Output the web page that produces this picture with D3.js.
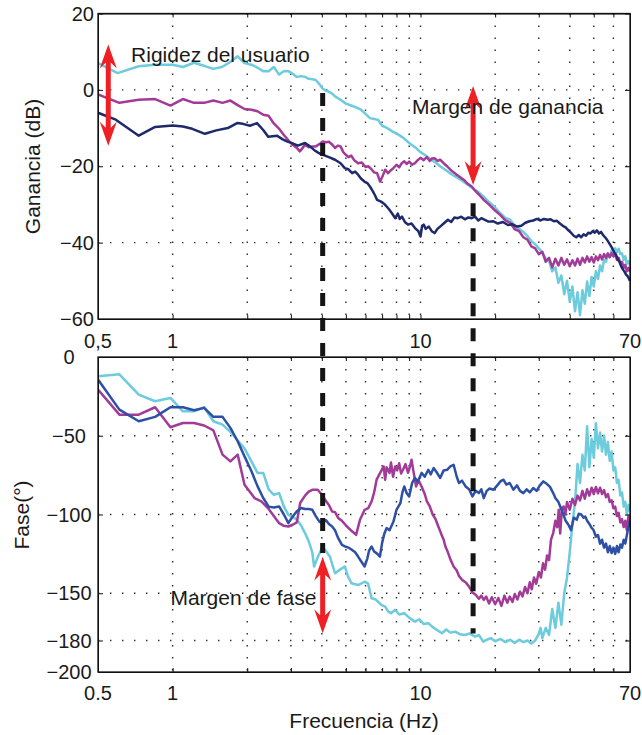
<!DOCTYPE html>
<html><head><meta charset="utf-8">
<script src="https://cdn.jsdelivr.net/npm/d3@7"></script>
<style>
body{margin:0;background:#fff;}
svg text{font-family:"Liberation Sans",Arial,Helvetica,sans-serif;fill:#1a1a1a;}
</style></head><body>
<svg id="c" width="642" height="735"></svg>
<script>
// ---------- data ----------
const gainTicks=[20,0,-20,-40,-60];
const phaseTicks=[0,-50,-100,-150,-180,-200];
const freqTicks=[0.5,1,10,70];
const freqLabelsTop=["0,5","1","10","70"];
const freqLabelsBottom=["0.5","1","10","70"];
const gridFreqs=[1,2,3,4,5,6,7,8,9,10,20,30,40,50,60];

const gainCyan=[[0.5,7.0],[0.6,4.4],[0.73,6.2],[0.85,6.6],[1.0,6.6],[1.1,6.0],[1.22,7.1],[1.34,6.3],[1.46,5.5],[1.58,6.0],[1.71,7.3],[1.83,8.8],[1.95,7.0],[2.08,6.6],[2.2,5.8],[2.32,4.9],[2.44,4.9],[2.56,6.0],[2.69,4.0],[2.81,4.9],[2.93,4.9],[3.05,4.2],[3.17,3.4],[3.3,3.6],[3.42,3.4],[3.54,2.9],[3.66,2.8],[3.78,2.6],[3.91,1.5],[4.03,0.3],[4.15,-0.2],[4.27,-0.5],[4.4,-1.0],[4.52,-1.7],[4.76,-2.6],[5.0,-3.6],[5.25,-4.1],[5.5,-4.6],[5.75,-5.2],[6.0,-6.3],[6.25,-7.4],[6.5,-7.6],[6.75,-7.9],[7.0,-9.4],[7.25,-9.8],[7.5,-10.4],[7.75,-11.0],[8.0,-11.4],[8.5,-12.5],[9.0,-13.9],[9.5,-15.0],[10,-16.3],[10.5,-17.2],[11,-18.2],[11.5,-19.0],[12,-20.0],[12.5,-20.8],[13,-21.6],[13.5,-22.3],[14,-22.9],[14.5,-23.5],[15,-24.2],[15.5,-24.8],[16,-25.5],[17,-26.6],[18,-28.0],[19,-29.5],[20,-30.8],[21,-32.3],[22,-33.5],[23,-34.0],[24,-35.6],[25,-36.4],[26,-37.2],[27,-38.3],[28,-39.6],[29,-40.4],[30,-41.5],[31,-42.6],[32,-44.2],[33,-44.8],[34,-47.5],[35,-46.5],[36,-50.5],[37,-48.6],[38,-53.5],[39,-50.0],[40,-55.5],[41,-51.5],[42,-58.0],[43,-53.0],[44,-59.0],[45,-52.5],[46,-56.0],[47,-50.2],[48,-54.0],[49,-49.0],[50,-51.5],[51,-47.5],[52,-49.5],[53,-46.0],[54,-47.5],[55,-44.5],[56,-45.0],[57,-43.2],[58,-43.8],[59,-42.0],[60,-42.8],[61,-41.5],[62,-42.5],[63,-41.6],[64,-43.0],[65,-42.8],[66,-44.5],[67,-43.6],[68,-45.5],[69,-44.8],[70,-46.0]];

const gainMagenta=[[0.5,-1.2],[0.61,-3.4],[0.73,-2.6],[0.85,-2.4],[0.98,-4.1],[1.1,-2.4],[1.22,-3.4],[1.34,-3.4],[1.46,-2.8],[1.59,-3.4],[1.71,-2.8],[1.83,-4.0],[1.95,-5.0],[2.08,-5.2],[2.2,-5.6],[2.32,-6.5],[2.44,-6.8],[2.56,-8.8],[2.69,-10.2],[2.81,-11.8],[2.93,-13.2],[3.05,-14.4],[3.17,-15.2],[3.26,-16.1],[3.42,-14.4],[3.54,-15.0],[3.66,-14.8],[3.78,-14.8],[3.91,-14.2],[4.03,-13.5],[4.15,-13.7],[4.27,-13.6],[4.4,-14.3],[4.52,-15.2],[4.64,-14.6],[4.76,-14.8],[4.88,-16.3],[5.0,-17.0],[5.12,-17.6],[5.25,-17.2],[5.4,-18.4],[5.6,-19.2],[5.8,-19.0],[6.0,-20.2],[6.15,-20.0],[6.3,-20.6],[6.5,-21.6],[6.68,-21.8],[6.87,-24.0],[7.05,-22.4],[7.2,-20.9],[7.4,-21.8],[7.55,-21.2],[7.75,-20.6],[8.0,-19.6],[8.2,-20.3],[8.4,-19.2],[8.6,-18.7],[8.8,-19.4],[9.0,-18.8],[9.25,-19.6],[9.5,-19.2],[9.75,-18.4],[10.0,-17.8],[10.3,-18.4],[10.6,-17.6],[10.9,-18.6],[11.1,-18.0],[11.4,-17.9],[11.7,-18.6],[12.0,-18.3],[12.4,-19.2],[12.8,-20.0],[13.2,-20.9],[13.6,-21.6],[14.0,-22.2],[14.6,-23.1],[15.0,-23.6],[15.5,-24.6],[16.1,-25.3],[16.6,-26.4],[17.2,-27.4],[18.0,-28.8],[19.0,-30.2],[20,-31.6],[21,-32.8],[22,-34.2],[23,-34.8],[24,-36.5],[25,-37.0],[26,-38.6],[27,-39.2],[28,-41.0],[29,-41.5],[30,-43.0],[31,-42.4],[32,-45.0],[33,-44.0],[34,-46.5],[35,-44.2],[36,-46.0],[37,-44.0],[38,-45.8],[39,-44.4],[40,-46.2],[41,-44.6],[42,-46.0],[43,-44.2],[44,-45.8],[45,-44.0],[46,-45.2],[47,-43.6],[48,-45.0],[49,-43.8],[50,-45.2],[51,-43.6],[52,-44.6],[53,-43.2],[54,-44.4],[55,-43.0],[56,-44.0],[57,-42.8],[58,-43.8],[59,-42.8],[60,-43.6],[61,-43.0],[62,-44.5],[63,-44.0],[64,-45.5],[65,-45.0],[66,-46.6],[67,-45.8],[68,-47.5],[69,-46.6],[70,-47.6]];

const gainNavy=[[0.5,-6.0],[0.59,-7.8],[0.73,-12.0],[0.85,-9.7],[1.0,-9.3],[1.1,-9.6],[1.2,-10.2],[1.35,-11.5],[1.5,-10.6],[1.67,-10.0],[1.82,-8.7],[1.92,-8.9],[2.05,-9.4],[2.19,-8.7],[2.32,-10.5],[2.43,-12.3],[2.64,-12.0],[2.77,-12.9],[2.89,-13.5],[3.05,-14.0],[3.2,-14.6],[3.42,-13.9],[3.58,-14.8],[3.75,-15.9],[3.9,-16.6],[4.04,-17.0],[4.27,-17.6],[4.52,-18.3],[4.76,-19.2],[4.95,-20.5],[5.12,-20.8],[5.3,-21.8],[5.45,-21.4],[5.6,-22.2],[5.75,-23.2],[5.94,-24.0],[6.1,-24.4],[6.25,-25.3],[6.4,-26.4],[6.55,-27.6],[6.68,-28.8],[6.9,-29.2],[7.05,-29.6],[7.2,-30.1],[7.45,-31.2],[7.67,-32.3],[7.9,-33.6],[8.1,-32.4],[8.25,-33.8],[8.42,-33.2],[8.65,-34.6],[8.9,-35.3],[9.2,-35.0],[9.5,-36.2],[9.8,-37.0],[10.0,-38.4],[10.15,-35.6],[10.3,-35.3],[10.5,-36.4],[10.8,-35.8],[11.1,-37.0],[11.4,-37.5],[11.7,-36.4],[12.0,-35.8],[12.4,-35.0],[12.9,-34.0],[13.3,-34.6],[13.7,-33.4],[14.15,-33.6],[14.6,-33.2],[15.1,-33.9],[15.6,-33.4],[16.1,-33.6],[16.6,-33.2],[17.1,-34.2],[17.6,-33.6],[18.1,-34.0],[18.8,-34.5],[19.6,-34.4],[20.5,-35.0],[21.5,-34.6],[22.5,-35.4],[23.5,-35.2],[24.5,-35.8],[25.5,-35.6],[26.5,-34.8],[27.5,-34.4],[28.5,-34.2],[29.5,-33.8],[30.5,-34.2],[31.5,-33.8],[32.5,-34.0],[33.5,-33.9],[34.5,-34.4],[35.5,-34.3],[36.5,-35.0],[37.5,-35.6],[38.5,-36.0],[39.5,-36.8],[40.5,-37.4],[41.5,-38.2],[42.5,-38.6],[43.5,-38.0],[44.5,-38.6],[45.5,-37.8],[46.5,-38.2],[47.5,-37.4],[48.5,-37.6],[49.5,-37.0],[50.5,-37.4],[51.5,-36.8],[52.5,-37.6],[53.5,-37.2],[54.5,-38.0],[55.5,-38.6],[56.5,-39.2],[57.5,-40.0],[58.5,-40.8],[59.5,-41.6],[60.5,-42.6],[61.5,-43.2],[62.5,-44.4],[63.5,-45.0],[64.5,-46.2],[65.5,-47.0],[66.5,-47.6],[67.5,-48.4],[68.5,-48.8],[69.5,-49.6],[70,-50.0]];

const phaseCyan=[[0.5,-12.2],[0.61,-11.0],[0.73,-23.9],[0.85,-28.1],[0.98,-26.0],[1.1,-34.5],[1.22,-34.5],[1.34,-31.9],[1.46,-40.8],[1.59,-42.9],[1.71,-47.5],[1.83,-53.0],[1.95,-58.0],[2.08,-66.3],[2.2,-73.6],[2.32,-73.6],[2.44,-84.0],[2.56,-87.5],[2.69,-86.4],[2.81,-94.9],[2.93,-100.2],[3.05,-101.5],[3.17,-103.3],[3.3,-107.0],[3.42,-111.8],[3.54,-117.0],[3.66,-124.0],[3.72,-133.0],[3.85,-127.0],[4.03,-120.4],[4.12,-122.4],[4.31,-126.8],[4.52,-137.3],[4.73,-135.0],[4.95,-133.0],[5.1,-139.5],[5.27,-143.7],[5.6,-144.8],[5.95,-142.7],[6.14,-143.7],[6.35,-153.2],[6.6,-154.0],[6.95,-157.4],[7.2,-158.5],[7.4,-161.5],[7.6,-162.7],[7.9,-160.5],[8.2,-163.5],[8.6,-162.7],[9.0,-165.5],[9.5,-168.0],[9.9,-166.5],[10.3,-169.5],[10.75,-169.0],[11.2,-171.5],[11.7,-173.5],[12.2,-175.4],[12.7,-173.0],[13.2,-175.0],[13.8,-174.4],[14.4,-176.0],[15.1,-176.5],[15.8,-175.5],[16.6,-177.6],[17.2,-176.5],[17.9,-180.7],[18.4,-179.7],[19.2,-178.5],[20.0,-180.5],[21,-179.0],[22,-181.0],[23,-179.5],[24,-181.5],[25,-179.5],[26,-181.0],[27,-180.0],[28,-182.0],[29,-180.0],[30,-176.0],[30.5,-172.0],[31,-178.5],[32,-172.0],[33,-176.5],[34,-160.0],[35,-172.0],[36,-156.0],[37,-170.0],[38,-150.0],[39,-140.0],[40,-124.0],[41,-106.0],[42,-92.0],[43,-68.0],[44,-80.0],[45,-62.0],[46,-72.0],[47,-44.0],[48,-70.0],[49,-52.0],[50,-64.0],[51,-42.0],[52,-58.0],[53,-48.0],[54,-60.0],[55,-50.0],[56,-62.0],[57,-54.0],[58,-66.0],[59,-60.0],[60,-72.0],[61,-70.0],[62,-80.0],[63,-78.0],[64,-88.0],[65,-86.0],[66,-95.0],[67,-92.0],[68,-100.0],[69,-94.0],[70,-98.0]];

const phaseMagenta=[[0.5,-20.7],[0.61,-36.6],[0.73,-36.6],[0.85,-31.9],[0.98,-44.6],[1.1,-41.9],[1.22,-41.9],[1.34,-43.5],[1.46,-46.6],[1.59,-62.0],[1.71,-66.3],[1.83,-62.0],[1.95,-81.1],[2.02,-84.3],[2.14,-89.6],[2.28,-91.7],[2.44,-96.5],[2.56,-101.0],[2.69,-105.5],[2.81,-107.2],[2.93,-107.6],[3.05,-106.5],[3.17,-105.0],[3.27,-92.7],[3.42,-88.0],[3.54,-85.5],[3.66,-84.3],[3.85,-84.3],[4.0,-87.5],[4.12,-90.6],[4.27,-94.0],[4.4,-98.1],[4.52,-98.5],[4.66,-102.3],[4.82,-104.0],[5.05,-107.6],[5.28,-110.5],[5.5,-112.9],[5.6,-108.0],[5.7,-103.3],[5.95,-97.0],[6.15,-96.0],[6.35,-91.7],[6.5,-86.0],[6.65,-77.9],[6.85,-74.0],[7.1,-69.5],[7.2,-78.0],[7.3,-70.0],[7.5,-73.6],[7.6,-67.0],[7.75,-76.0],[7.9,-69.5],[8.05,-72.0],[8.2,-67.5],[8.35,-74.0],[8.5,-71.6],[8.7,-68.0],[8.9,-73.5],[9.05,-70.0],[9.2,-65.2],[9.35,-72.0],[9.6,-82.2],[9.8,-78.0],[10.1,-82.2],[10.4,-87.0],[10.6,-91.5],[10.9,-94.9],[11.2,-100.0],[11.5,-103.0],[11.8,-107.6],[12.1,-112.0],[12.4,-116.0],[12.6,-120.3],[12.9,-124.0],[13.2,-128.5],[13.6,-133.0],[14.0,-135.5],[14.3,-139.0],[14.7,-141.5],[15.2,-143.0],[15.7,-145.8],[16.2,-149.5],[16.7,-151.0],[17.2,-153.5],[17.6,-151.5],[18.0,-154.2],[18.4,-152.1],[18.9,-156.5],[19.4,-152.5],[20.0,-157.0],[20.6,-153.0],[21.2,-158.0],[21.8,-151.5],[22.4,-156.0],[22.9,-152.1],[23.5,-155.5],[24.0,-150.5],[24.6,-154.0],[25.2,-149.0],[25.8,-152.0],[26.4,-146.0],[27.0,-150.0],[27.6,-143.0],[28.1,-147.5],[28.7,-140.0],[29.3,-144.0],[30.0,-136.5],[30.6,-140.0],[31.2,-131.0],[31.8,-135.0],[32.4,-126.0],[33.0,-129.0],[33.6,-116.0],[34.3,-111.8],[35.0,-104.0],[35.6,-108.0],[36.1,-97.0],[36.6,-112.0],[37.2,-96.0],[37.8,-94.9],[38.4,-100.0],[39.0,-92.0],[40.0,-97.0],[41.0,-90.0],[42.0,-94.0],[43.0,-88.0],[44.0,-91.0],[45.0,-85.0],[46.0,-90.0],[47.0,-84.0],[48.0,-88.0],[49.0,-83.0],[50.0,-87.0],[51.0,-82.5],[52.0,-86.5],[53.0,-83.0],[54.0,-87.0],[55.0,-84.5],[56.0,-89.0],[57.0,-87.0],[58.0,-92.0],[59.0,-91.0],[60.0,-96.0],[61.0,-95.0],[62.0,-101.0],[63.0,-99.0],[64.0,-105.0],[65.0,-103.0],[66.0,-108.0],[67.0,-104.0],[68.0,-110.0],[69.0,-101.0],[70.0,-106.0]];

const phaseBlue=[[0.5,-14.3],[0.61,-33.4],[0.73,-40.8],[0.85,-38.0],[0.98,-31.9],[1.1,-31.9],[1.22,-33.8],[1.34,-32.3],[1.46,-38.0],[1.59,-38.0],[1.71,-45.0],[1.83,-53.5],[1.95,-63.1],[2.08,-72.5],[2.2,-82.0],[2.32,-89.5],[2.44,-95.0],[2.56,-95.5],[2.69,-94.9],[2.81,-100.0],[2.93,-105.5],[3.05,-101.3],[3.17,-98.0],[3.3,-95.9],[3.42,-96.5],[3.54,-96.5],[3.66,-97.0],[3.78,-101.0],[3.91,-104.5],[4.03,-105.5],[4.15,-103.5],[4.27,-106.0],[4.4,-107.6],[4.52,-110.0],[4.64,-114.5],[4.82,-119.3],[5.0,-120.5],[5.12,-121.0],[5.28,-122.4],[5.45,-124.0],[5.6,-126.7],[5.75,-129.5],[5.95,-133.0],[6.1,-128.0],[6.2,-123.0],[6.35,-120.3],[6.5,-123.5],[6.7,-125.0],[6.86,-126.7],[7.0,-118.0],[7.15,-112.0],[7.3,-108.6],[7.5,-110.0],[7.78,-104.4],[8.0,-97.0],[8.3,-92.7],[8.45,-86.0],[8.6,-82.2],[8.8,-86.5],[9.0,-88.5],[9.25,-80.0],[9.5,-76.8],[9.75,-79.0],[10.1,-73.6],[10.4,-76.0],[10.75,-71.6],[11.0,-74.5],[11.3,-70.5],[11.6,-73.0],[12.0,-76.8],[12.4,-72.0],[12.8,-71.6],[13.2,-69.5],[13.6,-68.4],[14.0,-76.0],[14.3,-80.0],[14.7,-78.5],[15.2,-82.2],[15.7,-84.0],[16.2,-88.5],[16.7,-85.0],[17.2,-86.4],[17.6,-84.0],[18.0,-89.6],[18.5,-85.0],[19.0,-83.5],[19.7,-84.3],[20.4,-81.5],[21.0,-79.0],[21.6,-77.9],[22.2,-81.0],[22.9,-80.0],[23.7,-84.3],[24.5,-81.5],[25.2,-85.0],[26.0,-86.4],[26.8,-84.0],[27.6,-86.0],[28.5,-83.2],[29.4,-85.0],[30.3,-81.5],[31.3,-79.0],[32.3,-80.5],[33.3,-82.5],[34.3,-86.4],[35.0,-89.5],[36.0,-92.0],[36.6,-94.9],[37.5,-99.0],[38.5,-104.0],[39.5,-106.5],[40.5,-110.0],[41.5,-102.0],[42.7,-103.3],[43.5,-99.5],[44.5,-100.0],[45.5,-102.0],[46.2,-101.3],[47.0,-104.0],[48.0,-106.0],[49.0,-108.5],[49.8,-109.7],[51.0,-114.0],[52.0,-113.0],[53.0,-118.5],[54.0,-116.0],[55.0,-121.0],[56.0,-118.5],[57.0,-124.0],[58.0,-120.0],[59.0,-124.5],[60.0,-121.0],[61.0,-125.0],[62.0,-120.0],[63.0,-124.0],[64.0,-119.0],[65.0,-121.0],[66.0,-116.0],[67.0,-118.5],[68.0,-113.0],[69.0,-108.0],[70.0,-104.0]];

// annotations (data units)
const gainArrows=[{f:0.55,from:11.9,to:-14.6},{f:16.3,from:1.0,to:-24.9}];
const phaseArrows=[{f:4.03,from:-126.8,to:-175.4}];
const dashedLines=[{f:4.03,gain:-0.8,phase:-124.5},{f:16.3,gain:-29.7,phase:-175.5}];
const gainNotes=[{text:"Rigidez del usuario",f:0.68,v:7.2},{text:"Margen de ganancia",f:9.24,v:-6.4}];
const phaseNotes=[{text:"Margen de fase",f:0.98,v:-157.5}];

// ---------- drawing ----------
const COLORS={cyan:"#6ccbdc",magenta:"#a23a98",navy:"#1e2a6c",blue:"#2d50a5",red:"#ee2025"};
const svg=d3.select("#c");
const X0=98,X1=630;
const x=d3.scaleLog().domain([0.5,70]).range([X0,X1]);
const yG=d3.scaleLinear().domain([-60,20]).range([319,13.5]);
const yP=d3.scaleLinear().domain([-200,0]).range([672,357]);
const fmt=d=>d<0?"\u2212"+(-d):String(d);

function panel(y,yTicks,series,id,labelMode){
  const g=svg.append("g");
  const [yb,yt]=y.range();
  const grid=g.append("g").attr("stroke","#2a2a2a").attr("stroke-width",1.4).attr("stroke-dasharray","1.4,10.6");
  grid.selectAll("line.v").data(gridFreqs).join("line").attr("class","v")
    .attr("x1",d=>x(d)).attr("x2",d=>x(d)).attr("y1",yt).attr("y2",yb);
  grid.selectAll("line.h").data(yTicks.filter(t=>t>y.domain()[0]&&t<y.domain()[1])).join("line").attr("class","h")
    .attr("x1",X0).attr("x2",X1).attr("y1",d=>y(d)).attr("y2",d=>y(d));
  svg.append("clipPath").attr("id",id).append("rect").attr("x",X0).attr("y",yt).attr("width",X1-X0).attr("height",yb-yt);
  const line=d3.line().x(d=>x(d[0])).y(d=>y(d[1]));
  series.forEach(s=>g.append("path").attr("d",line(s.data)).attr("fill","none")
    .attr("stroke",s.color).attr("stroke-width",2.5).attr("stroke-linejoin","round").attr("clip-path",`url(#${id})`));
  const allX=[0.5,...gridFreqs,70];
  const style=a=>{a.selectAll("path,line").attr("stroke","#111");a.selectAll("text").remove();};
  g.append("g").attr("transform",`translate(0,${yb})`).call(d3.axisBottom(x).tickValues(allX).tickSizeInner(-4).tickSizeOuter(0)).call(style);
  g.append("g").attr("transform",`translate(0,${yt})`).call(d3.axisTop(x).tickValues(allX).tickSizeInner(-4).tickSizeOuter(0)).call(style);
  g.append("g").attr("transform",`translate(${X0},0)`).call(d3.axisLeft(y).tickValues(yTicks).tickSizeInner(-5).tickSizeOuter(0)).call(style);
  g.append("g").attr("transform",`translate(${X1},0)`).call(d3.axisRight(y).tickValues(yTicks).tickSizeInner(-5).tickSizeOuter(0)).call(style);
  g.append("rect").attr("x",X0).attr("y",yt).attr("width",X1-X0).attr("height",yb-yt)
    .attr("fill","none").attr("stroke","#111").attr("stroke-width",1.3);
  g.selectAll("text.yt").data(yTicks).join("text").attr("class","yt")
    .attr("x",labelMode==="end"?94:69).attr("y",d=>y(d)+7)
    .attr("text-anchor",labelMode==="end"?"end":"middle").attr("font-size",20).text(fmt);
  return g;
}

panel(yG,gainTicks,[{data:gainCyan,color:COLORS.cyan},{data:gainMagenta,color:COLORS.magenta},{data:gainNavy,color:COLORS.navy}],"clipG","end");
panel(yP,phaseTicks,[{data:phaseCyan,color:COLORS.cyan},{data:phaseMagenta,color:COLORS.magenta},{data:phaseBlue,color:COLORS.blue}],"clipP","middle");

// x tick labels
svg.selectAll("text.xtTop").data(freqTicks).join("text").attr("class","xtTop")
  .attr("x",d=>x(d)).attr("y",348).attr("text-anchor","middle").attr("font-size",20)
  .text((d,i)=>freqLabelsTop[i]);
svg.selectAll("text.xtBot").data(freqTicks).join("text").attr("class","xtBot")
  .attr("x",d=>x(d)).attr("y",700).attr("text-anchor","middle").attr("font-size",20)
  .text((d,i)=>freqLabelsBottom[i]);

// axis titles
svg.append("text").attr("transform","translate(40,166.5) rotate(-90)").attr("text-anchor","middle").attr("font-size",21).text("Ganancia (dB)");
svg.append("text").attr("transform","translate(29,515) rotate(-90)").attr("text-anchor","middle").attr("font-size",21).text("Fase(°)");
svg.append("text").attr("x",(X0+X1)/2).attr("y",728).attr("text-anchor","middle").attr("font-size",21).text("Frecuencia (Hz)");

// dashed lines
svg.selectAll("line.dash").data(dashedLines).join("line").attr("class","dash")
  .attr("x1",d=>x(d.f)).attr("x2",d=>x(d.f)).attr("y1",d=>yG(d.gain)).attr("y2",d=>yP(d.phase))
  .attr("stroke","#151515").attr("stroke-width",5).attr("stroke-dasharray","13,12");

// arrows
function arrowPath(cx,y0,y1){
  const hw=8.5,hl=24,nl=18,sw=2.5;
  return `M${cx},${y0}L${cx+hw},${y0+hl}L${cx+sw},${y0+nl}L${cx+sw},${y1-nl}L${cx+hw},${y1-hl}L${cx},${y1}`+
         `L${cx-hw},${y1-hl}L${cx-sw},${y1-nl}L${cx-sw},${y0+nl}L${cx-hw},${y0+hl}Z`;
}
gainArrows.forEach(a=>svg.append("path").attr("d",arrowPath(x(a.f),yG(a.from),yG(a.to))).attr("fill",COLORS.red));
phaseArrows.forEach(a=>svg.append("path").attr("d",arrowPath(x(a.f),yP(a.from),yP(a.to))).attr("fill",COLORS.red));

// annotation texts
gainNotes.forEach(n=>svg.append("text").attr("x",x(n.f)).attr("y",yG(n.v)).attr("font-size",21).text(n.text));
phaseNotes.forEach(n=>svg.append("text").attr("x",x(n.f)).attr("y",yP(n.v)).attr("font-size",21).text(n.text));
</script>
</body></html>
